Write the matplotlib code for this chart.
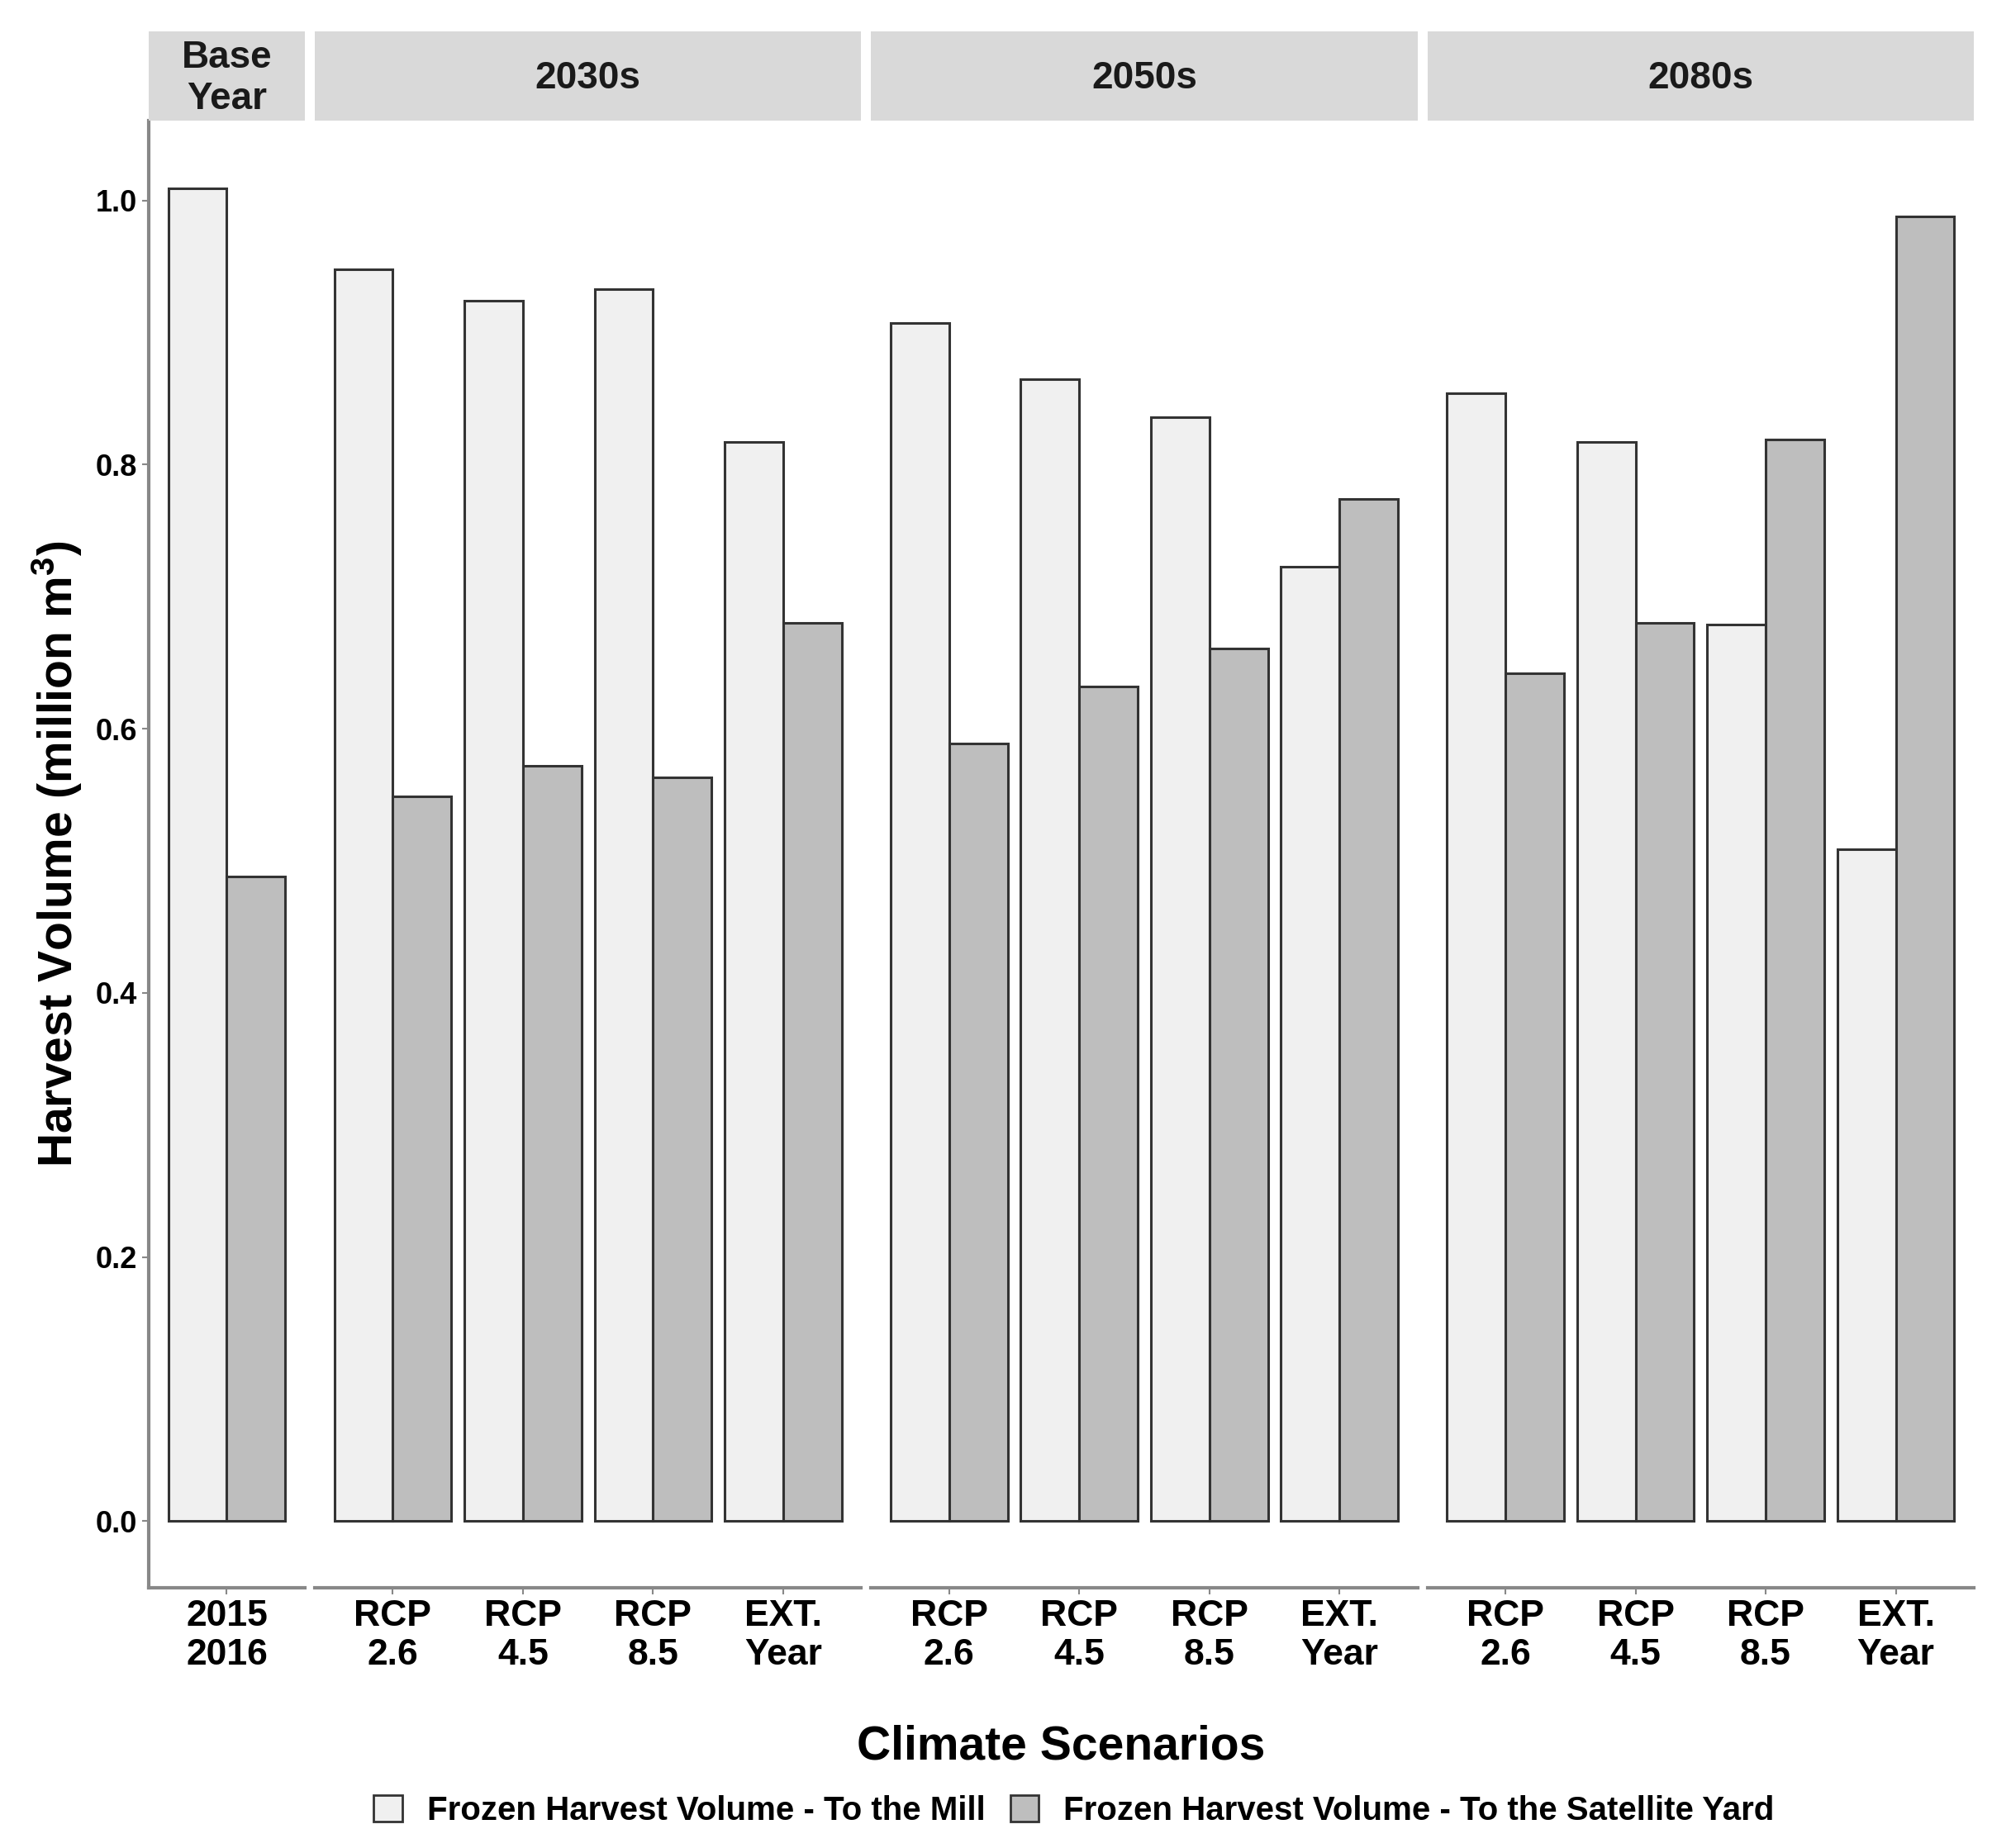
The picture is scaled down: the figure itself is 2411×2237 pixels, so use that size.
import matplotlib
matplotlib.use("Agg")
import matplotlib.pyplot as plt
from matplotlib.patches import Patch
import numpy as np

# ---------------- data ----------------
periods = ["Base\nYear", "2030s", "2050s", "2080s"]
scenarios = [
    ["2015\n2016"],
    ["RCP\n2.6", "RCP\n4.5", "RCP\n8.5", "EXT.\nYear"],
    ["RCP\n2.6", "RCP\n4.5", "RCP\n8.5", "EXT.\nYear"],
    ["RCP\n2.6", "RCP\n4.5", "RCP\n8.5", "EXT.\nYear"],
]
mill = [
    [1.009],
    [0.948, 0.924, 0.933, 0.817],
    [0.907, 0.865, 0.836, 0.723],
    [0.854, 0.817, 0.679, 0.509],
]
satellite = [
    [0.488],
    [0.549, 0.572, 0.563, 0.680],
    [0.589, 0.632, 0.661, 0.774],
    [0.642, 0.680, 0.819, 0.988],
]
series_labels = ["Frozen Harvest Volume - To the Mill",
                 "Frozen Harvest Volume - To the Satellite Yard"]
series_colors = ["#F0F0F0", "#BEBEBE"]
y_ticks = [0.0, 0.2, 0.4, 0.6, 0.8, 1.0]

# ---------------- style ----------------
plt.rcParams['font.family'] = ['Liberation Sans', 'DejaVu Sans']
plt.rcParams['mathtext.fontset'] = 'custom'
plt.rcParams['mathtext.rm'] = 'Liberation Sans:bold'
plt.rcParams['mathtext.default'] = 'rm'

W, H = 2411, 2237
fig = plt.figure(figsize=(W / 100, H / 100), dpi=100)
fig.patch.set_facecolor("white")

left, right, gap = 180, 2389, 12
strip_top, panel_top, panel_bot = 38, 146, 1922
edge_col = "#333333"
spine_col = "#888888"
bar_lw = 2.2

units = [len(s) - 1 + 1.2 for s in scenarios]
unit_px = (right - left - gap * (len(units) - 1)) / sum(units)

x0 = left
for i, period in enumerate(periods):
    n = len(scenarios[i])
    w = units[i] * unit_px
    ax = fig.add_axes([x0 / W, 1 - panel_bot / H, w / W, (panel_bot - panel_top) / H])
    sax = fig.add_axes([x0 / W, 1 - panel_top / H, w / W, (panel_top - strip_top) / H])

    x = np.arange(n)
    ax.bar(x - 0.225, mill[i], width=0.45, color=series_colors[0],
           edgecolor=edge_col, linewidth=bar_lw, zorder=2)
    ax.bar(x + 0.225, satellite[i], width=0.45, color=series_colors[1],
           edgecolor=edge_col, linewidth=bar_lw, zorder=2)
    ax.set_xlim(-0.6, n - 1 + 0.6)
    ax.set_ylim(-0.0505, 1.0605)
    ax.set_xticks(x)
    ax.set_xticklabels(scenarios[i], fontsize=32, fontweight='bold',
                       linespacing=1.18, color='black')
    ax.tick_params(axis='x', length=6, width=1.5, color=spine_col, pad=4)
    for s in ['top', 'right']:
        ax.spines[s].set_visible(False)
    ax.spines['bottom'].set_color(spine_col)
    ax.spines['bottom'].set_linewidth(3)
    if i == 0:
        ax.spines['left'].set_color(spine_col)
        ax.spines['left'].set_linewidth(3)
        ax.set_yticks(y_ticks)
        ax.set_yticklabels([f"{v:.1f}" for v in y_ticks], fontsize=26,
                           fontweight='bold', color='black')
        ax.tick_params(axis='y', length=6, width=1.5, color=spine_col, pad=4)
    else:
        ax.spines['left'].set_visible(False)
        ax.set_yticks([])

    sax.set_facecolor("#D9D9D9")
    for s in sax.spines.values():
        s.set_visible(False)
    sax.set_xticks([])
    sax.set_yticks([])
    sax.text(0.5, 0.47, period, ha='center', va='center', fontsize=33,
             fontweight='bold', color='#1A1A1A', linespacing=1.18,
             transform=sax.transAxes)
    x0 += w + gap

fig.text(69 / W, 1 - 1034 / H, "Harvest Volume (million m$^3$)", rotation=90,
         ha='center', va='center', fontsize=41, fontweight='bold')
fig.text(1284 / W, 1 - 2115 / H, "Climate Scenarios", ha='center', va='center',
         fontsize=41, fontweight='bold')

handles = [Patch(facecolor=c, edgecolor=edge_col, linewidth=2) for c in series_colors]
fig.legend(handles, series_labels, loc='center', bbox_to_anchor=(1300 / W, 1 - 2192 / H),
           ncol=2, frameon=False, prop={'size': 29, 'weight': 'bold'},
           handlelength=0.85, handleheight=0.85, columnspacing=0.75, handletextpad=0.75)

fig.savefig("out.png", dpi=100)
